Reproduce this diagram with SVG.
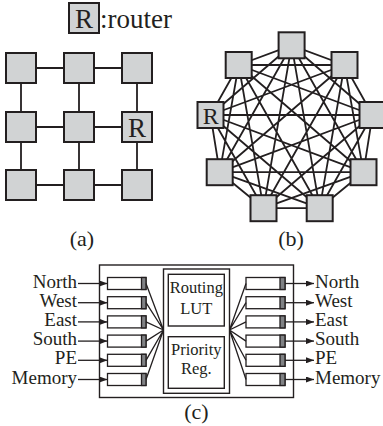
<svg xmlns="http://www.w3.org/2000/svg" width="383" height="426" viewBox="0 0 383 426">
  <defs>
    <marker id="arrow" viewBox="0 0 8 6" refX="8" refY="3" markerWidth="8" markerHeight="6" markerUnits="userSpaceOnUse" orient="auto">
      <path d="M0 0L8 3L0 6Z" fill="#231f20"/>
    </marker>
  </defs>
  <style>
    .router { fill: #d1d3d4; stroke: #231f20; stroke-width: 2; }
    .link { stroke: #231f20; stroke-width: 1.8; fill: none; }
    .full { stroke: #231f20; stroke-width: 1.8; fill: none; }
    .frame { fill: #ffffff; stroke: #231f20; stroke-width: 1.4; }
    .queue { fill: #ffffff; stroke: #231f20; stroke-width: 1.3; }
    .qend { fill: #808285; stroke: #231f20; stroke-width: 1.3; }
    .wire { stroke: #231f20; stroke-width: 1.3; fill: none; }
    .io { stroke: #231f20; stroke-width: 1.3; fill: none; marker-end: url(#arrow); }
    text { font-family: "Liberation Serif", "Times New Roman", serif; fill: #231f20; }
    .big { font-family: "Liberation Serif", serif; font-size: 27px; }
    .mid { font-family: "Liberation Serif", serif; font-size: 24px; }
    .cap { font-size: 22px; text-anchor: middle; }
    .port { font-size: 19px; }
    .blk { font-size: 16.5px; text-anchor: middle; }
  </style>

  <!-- legend -->
  <g id="legend">
    <rect class="router" x="69" y="3" width="30" height="30"/>
    <text class="big" x="84" y="27.5" text-anchor="middle" font-family="Liberation Serif, serif">R</text>
    <text class="big" x="100" y="27.5" font-family="Liberation Serif, serif">:router</text>
  </g>

  <!-- (a) 3x3 mesh -->
  <g id="mesh-links">
    <path class="link" d="M21 68H137M21 127H137M21 185H137M21 68V185M79 68V185M137 68V185"/>
  </g>
  <g id="mesh-r00"><rect class="router" x="6" y="53" width="30" height="30"/></g>
  <g id="mesh-r01"><rect class="router" x="64" y="53" width="30" height="30"/></g>
  <g id="mesh-r02"><rect class="router" x="122" y="53" width="30" height="30"/></g>
  <g id="mesh-r10"><rect class="router" x="6" y="112" width="30" height="30"/></g>
  <g id="mesh-r11"><rect class="router" x="64" y="112" width="30" height="30"/></g>
  <g id="mesh-r12"><rect class="router" x="122" y="112" width="30" height="30"/>
    <text class="big" x="137" y="137" text-anchor="middle" font-family="Liberation Serif, serif">R</text></g>
  <g id="mesh-r20"><rect class="router" x="6" y="170" width="30" height="30"/></g>
  <g id="mesh-r21"><rect class="router" x="64" y="170" width="30" height="30"/></g>
  <g id="mesh-r22"><rect class="router" x="122" y="170" width="30" height="30"/></g>
  <text class="cap" x="82" y="246">(a)</text>

  <!-- (b) fully connected, 9 routers -->
  <g id="full-links">
    <path class="full" d="
      M291.6 45.3L344.5 65M291.6 45.3L372.5 115M291.6 45.3L363.5 172.2M291.6 45.3L319.7 208.2
      M291.6 45.3L263.5 208.2M291.6 45.3L219.7 172.2M291.6 45.3L210.5 115M291.6 45.3L238.7 65
      M344.5 65L372.5 115M344.5 65L363.5 172.2M344.5 65L319.7 208.2M344.5 65L263.5 208.2
      M344.5 65L219.7 172.2M344.5 65L210.5 115M344.5 65L238.7 65
      M372.5 115L363.5 172.2M372.5 115L319.7 208.2M372.5 115L263.5 208.2M372.5 115L219.7 172.2
      M372.5 115L210.5 115M372.5 115L238.7 65
      M363.5 172.2L319.7 208.2M363.5 172.2L263.5 208.2M363.5 172.2L219.7 172.2
      M363.5 172.2L210.5 115M363.5 172.2L238.7 65
      M319.7 208.2L263.5 208.2M319.7 208.2L219.7 172.2M319.7 208.2L210.5 115M319.7 208.2L238.7 65
      M263.5 208.2L219.7 172.2M263.5 208.2L210.5 115M263.5 208.2L238.7 65
      M219.7 172.2L210.5 115M219.7 172.2L238.7 65
      M210.5 115L238.7 65"/>
  </g>
  <g id="fc-0"><rect class="router" x="278.6" y="32.3" width="26" height="26"/></g>
  <g id="fc-1"><rect class="router" x="331.5" y="52" width="26" height="26"/></g>
  <g id="fc-2"><rect class="router" x="359.5" y="102" width="26" height="26"/></g>
  <g id="fc-3"><rect class="router" x="350.5" y="159.2" width="26" height="26"/></g>
  <g id="fc-4"><rect class="router" x="306.7" y="195.2" width="26" height="26"/></g>
  <g id="fc-5"><rect class="router" x="250.5" y="195.2" width="26" height="26"/></g>
  <g id="fc-6"><rect class="router" x="206.7" y="159.2" width="26" height="26"/></g>
  <g id="fc-7"><rect class="router" x="197.5" y="102" width="26" height="26"/>
    <text class="mid" x="210.8" y="123.5" text-anchor="middle" font-family="Liberation Serif, serif">R</text></g>
  <g id="fc-8"><rect class="router" x="225.7" y="52" width="26" height="26"/></g>
  <text class="cap" x="291" y="246">(b)</text>

  <!-- (c) router internals -->
  <g id="router-frame"><rect class="frame" x="99.5" y="265" width="194" height="132.5"/></g>
  <g id="core">
    <rect class="frame" x="163.5" y="269" width="66" height="124.3"/>
    <rect class="frame" x="168.3" y="274.3" width="56" height="51.7"/>
    <rect class="frame" x="168.3" y="336.7" width="56" height="51.6"/>
    <text class="blk" x="196.3" y="293">Routing</text>
    <text class="blk" x="196.3" y="313.5">LUT</text>
    <text class="blk" x="196.3" y="355">Priority</text>
    <text class="blk" x="196.3" y="373.5">Reg.</text>
  </g>

  <g id="in-queues">
    <rect class="queue" x="107.5" y="277.5" width="38.5" height="12"/><rect class="qend" x="141.5" y="277.5" width="4.5" height="12"/>
    <rect class="queue" x="107.5" y="296.7" width="38.5" height="12"/><rect class="qend" x="141.5" y="296.7" width="4.5" height="12"/>
    <rect class="queue" x="107.5" y="315.9" width="38.5" height="12"/><rect class="qend" x="141.5" y="315.9" width="4.5" height="12"/>
    <rect class="queue" x="107.5" y="335.1" width="38.5" height="12"/><rect class="qend" x="141.5" y="335.1" width="4.5" height="12"/>
    <rect class="queue" x="107.5" y="354.3" width="38.5" height="12"/><rect class="qend" x="141.5" y="354.3" width="4.5" height="12"/>
    <rect class="queue" x="107.5" y="373.5" width="38.5" height="12"/><rect class="qend" x="141.5" y="373.5" width="4.5" height="12"/>
  </g>
  <g id="out-queues">
    <rect class="queue" x="246" y="277.5" width="39" height="12"/><rect class="qend" x="280" y="277.5" width="5" height="12"/>
    <rect class="queue" x="246" y="296.7" width="39" height="12"/><rect class="qend" x="280" y="296.7" width="5" height="12"/>
    <rect class="queue" x="246" y="315.9" width="39" height="12"/><rect class="qend" x="280" y="315.9" width="5" height="12"/>
    <rect class="queue" x="246" y="335.1" width="39" height="12"/><rect class="qend" x="280" y="335.1" width="5" height="12"/>
    <rect class="queue" x="246" y="354.3" width="39" height="12"/><rect class="qend" x="280" y="354.3" width="5" height="12"/>
    <rect class="queue" x="246" y="373.5" width="39" height="12"/><rect class="qend" x="280" y="373.5" width="5" height="12"/>
  </g>

  <g id="router-connectors">
    <path class="wire" d="M146 283.5L163.5 330M146 302.7L163.5 330M146 321.9L163.5 330M146 341.1L163.5 330M146 360.3L163.5 330M146 379.5L163.5 330"/>
    <path class="wire" d="M229.5 330L246 283.5M229.5 330L246 302.7M229.5 330L246 321.9M229.5 330L246 341.1M229.5 330L246 360.3M229.5 330L246 379.5"/>
    <line class="io" x1="78" y1="283.5" x2="107.5" y2="283.5"/>
    <line class="io" x1="78" y1="302.7" x2="107.5" y2="302.7"/>
    <line class="io" x1="78" y1="321.9" x2="107.5" y2="321.9"/>
    <line class="io" x1="78" y1="341.1" x2="107.5" y2="341.1"/>
    <line class="io" x1="78" y1="360.3" x2="107.5" y2="360.3"/>
    <line class="io" x1="78" y1="379.5" x2="107.5" y2="379.5"/>
    <line class="io" x1="285" y1="283.5" x2="314" y2="283.5"/>
    <line class="io" x1="285" y1="302.7" x2="314" y2="302.7"/>
    <line class="io" x1="285" y1="321.9" x2="314" y2="321.9"/>
    <line class="io" x1="285" y1="341.1" x2="314" y2="341.1"/>
    <line class="io" x1="285" y1="360.3" x2="314" y2="360.3"/>
    <line class="io" x1="285" y1="379.5" x2="314" y2="379.5"/>
  </g>

  <g id="in-labels" class="port" text-anchor="end">
    <text x="77" y="287.5">North</text>
    <text x="77" y="306.7">West</text>
    <text x="77" y="325.9">East</text>
    <text x="77" y="345.1">South</text>
    <text x="77" y="364.3">PE</text>
    <text x="77" y="383.5">Memory</text>
  </g>
  <g id="out-labels" class="port">
    <text x="315" y="287.5">North</text>
    <text x="315" y="306.7">West</text>
    <text x="315" y="325.9">East</text>
    <text x="315" y="345.1">South</text>
    <text x="315" y="364.3">PE</text>
    <text x="315" y="383.5">Memory</text>
  </g>
  <text class="cap" x="196.5" y="419">(c)</text>
</svg>
